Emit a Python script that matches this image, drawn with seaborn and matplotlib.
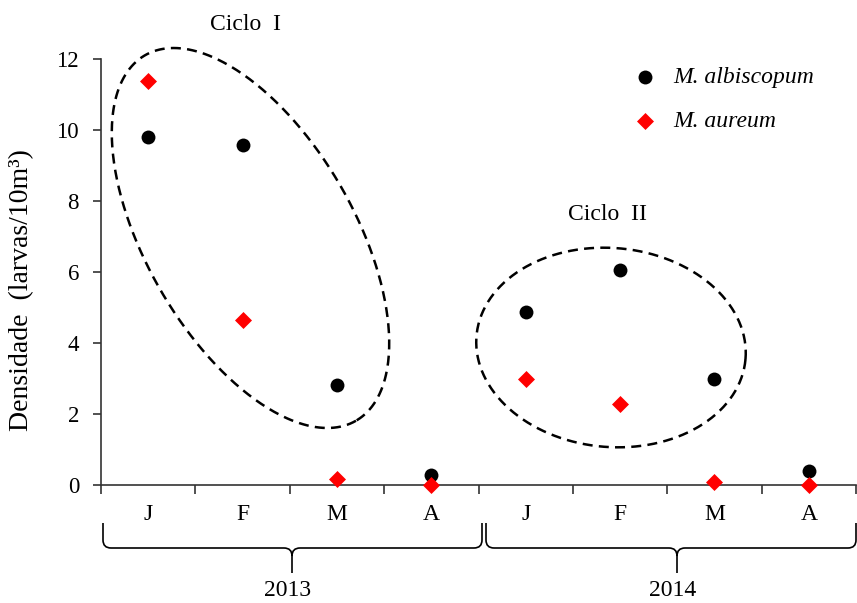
import numpy as np
import pandas as pd
import matplotlib
matplotlib.use("Agg")
import matplotlib.pyplot as plt
from matplotlib.path import Path
from matplotlib.patches import PathPatch
import seaborn as sns

# Data
meses = ["J", "F", "M", "A", "J", "F", "M", "A"]
anos = ["2013", "2014"]
albiscopum = [9.81, 9.58, 2.83, 0.27, 4.88, 6.07, 3.0, 0.40]
aureum = [11.38, 4.65, 0.17, 0.0, 3.0, 2.27, 0.08, 0.0]

df = pd.DataFrame({"pos": np.arange(len(meses)), "mes": meses,
                   "albiscopum": albiscopum, "aureum": aureum})

sns.set_style("ticks")
plt.rcParams["font.family"] = ["Liberation Serif", "DejaVu Serif"]
plt.rcParams["text.color"] = "black"
plt.rcParams["axes.labelcolor"] = "black"
plt.rcParams["xtick.color"] = "black"
plt.rcParams["ytick.color"] = "black"
AX_COL = "#333333"

W, H = 857, 603
fig = plt.figure(figsize=(W / 100, H / 100), dpi=100)
ax = fig.add_axes([101 / W, 118 / H, 755 / W, 426 / H])

sns.scatterplot(data=df, x="pos", y="albiscopum", marker="o", color="black", s=100,
                linewidth=0, label="M. albiscopum", ax=ax, clip_on=False, zorder=3)
sns.scatterplot(data=df, x="pos", y="aureum", marker="D", color="red", s=75,
                linewidth=0, label="M. aureum", ax=ax, clip_on=False, zorder=4)

ax.set_xlim(-0.5, len(meses) - 0.5)
ax.set_ylim(0, 12)
ax.set_xticks(np.arange(-0.5, len(meses), 1))
ax.set_xticklabels([])
ax.set_xticks(df["pos"], minor=True)
ax.set_xticklabels(meses, minor=True)
ax.set_yticks(range(0, 13, 2))
ax.tick_params(axis="x", which="major", length=6.3, width=1.2, color=AX_COL)
ax.tick_params(axis="x", which="minor", length=0, pad=14, labelsize=17)
ax.tick_params(axis="y", length=5.8, width=1.2, pad=10, labelsize=16.5, color=AX_COL)
ax.set_xlabel("")
ax.set_ylabel("Densidade  (larvas/10m³)", fontsize=20)
ax.yaxis.set_label_coords(-0.088, 0.458)
sns.despine(ax=ax)
for sp in ["left", "bottom"]:
    ax.spines[sp].set_linewidth(1.2)
    ax.spines[sp].set_color(AX_COL)


def pix2data(px, py):
    pts = np.column_stack([np.atleast_1d(px), H - np.atleast_1d(py)])
    return ax.transData.inverted().transform(pts)


def ellipse(cx, cy, a, b, ang):
    t = np.linspace(0, 2 * np.pi, 400)
    th = np.deg2rad(ang)
    px = cx + a * np.cos(t) * np.cos(th) - b * np.sin(t) * np.sin(th)
    py = cy + a * np.cos(t) * np.sin(th) + b * np.sin(t) * np.cos(th)
    d = pix2data(px, py)
    ax.plot(d[:, 0], d[:, 1], color="black", lw=1.8, ls=(0, (4, 2.5)), clip_on=False)


ellipse(250.5, 238, 211, 104, 60)
ellipse(611, 347.5, 135, 99.5, 5)

for txt, (px, py) in [("Ciclo  I", (245, 25)), ("Ciclo  II", (607, 215))]:
    d = pix2data(px, py)[0]
    ax.text(d[0], d[1], txt, fontsize=17, ha="center", va="center")


def brace(x0, x1, xc, label):
    yt, ym, yb, r = 523, 548, 573, 8
    pts = [(x0, yt), (x0, ym - r), (x0, ym), (x0 + r, ym), (xc - r, ym), (xc, ym), (xc, ym + r), (xc, yb),
           (x1, yt), (x1, ym - r), (x1, ym), (x1 - r, ym), (xc + r, ym), (xc, ym), (xc, ym + r)]
    codes = [Path.MOVETO, Path.LINETO, Path.CURVE3, Path.CURVE3, Path.LINETO, Path.CURVE3, Path.CURVE3,
             Path.LINETO, Path.MOVETO, Path.LINETO, Path.CURVE3, Path.CURVE3, Path.LINETO,
             Path.CURVE3, Path.CURVE3]
    p = np.array(pts, dtype=float)
    d = pix2data(p[:, 0], p[:, 1])
    ax.add_patch(PathPatch(Path(d, codes), fill=False, lw=1.2, color="black", clip_on=False))
    t = pix2data(xc - 4, 591)[0]
    ax.text(t[0], t[1], label, fontsize=17, ha="center", va="center")


brace(103, 482, 292, anos[0])
brace(486, 856, 677, anos[1])

ax.legend(loc="upper left", bbox_to_anchor=(0.705, 0.983), frameon=False,
          prop={"style": "italic", "size": 17}, handlelength=1.0, handletextpad=0.7,
          labelspacing=0.95, borderpad=0, borderaxespad=0)

fig.savefig("out.png", dpi=100)
